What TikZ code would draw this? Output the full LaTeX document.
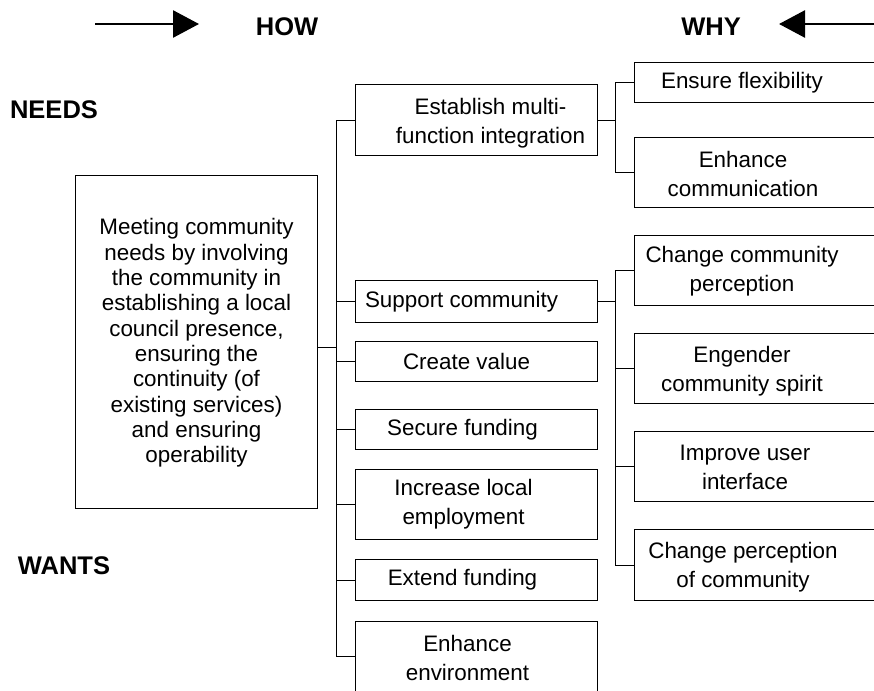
\documentclass[tikz,border=0pt]{standalone}
\usepackage{fontspec}
\setmainfont{Liberation Sans}
\usetikzlibrary{arrows.meta}
\begin{document}
\begin{tikzpicture}[x=1pt,y=-1pt,
  box/.style={draw, line width=1pt, inner sep=0pt, anchor=north west},
  txt/.style={align=center, inner sep=0pt, font=\fontsize{22.4}{29}\selectfont},
  head/.style={font=\fontsize{25.5}{30}\selectfont\bfseries, inner sep=0pt},
  link/.style={line width=1pt},
  bigarrow/.style={line width=2.6pt, -{Triangle[length=26pt,width=27pt]}}]
\useasboundingbox (0,0) rectangle (874,690);
\clip (0,0) rectangle (874,690);
\fill[white] (0,0) rectangle (874,690);

% headers
\coordinate (a1s) at (95,24);
\coordinate (a1e) at (199,24);
\draw[bigarrow] (a1s) -- (a1e);
\node[head] (how) at (287,27) {HOW};
\node[head] (why) at (711,27) {WHY};
\coordinate (a2s) at (880,24);
\coordinate (a2e) at (779,24);
\draw[bigarrow] (a2s) -- (a2e);
\node[head] (needs) at (54,110) {NEEDS};
\node[head] (wants) at (64,566) {WANTS};

% main box
\node[box, minimum width=242pt, minimum height=333pt] (main) at (75,175) {};
\node[txt, font=\fontsize{22.4}{25.3}\selectfont] (mainT) at ([yshift=-1pt]main.center)
 {Meeting community\\needs by involving\\the community in\\establishing a local\\council presence,\\ensuring the\\continuity (of\\existing services)\\and ensuring\\operability};

% HOW boxes
\node[box, minimum width=242pt, minimum height=71pt] (est) at (355,84) {};
\node[txt] (estT) at ([xshift=14pt,yshift=-3pt]est.center) {Establish multi-\\function integration};
\node[box, minimum width=242pt, minimum height=42pt] (sup) at (355,280) {};
\node[txt] (supT) at ([xshift=-15pt]sup.center) {Support community};
\node[box, minimum width=242pt, minimum height=40pt] (cv) at (355,341) {};
\node[txt] (cvT) at ([xshift=-10pt]cv.center) {Create value};
\node[box, minimum width=242pt, minimum height=40pt] (sf) at (355,409) {};
\node[txt] (sfT) at ([xshift=-14pt]sf.center) {Secure funding};
\node[box, minimum width=242pt, minimum height=70pt] (il) at (355,469) {};
\node[txt] (ilT) at ([xshift=-13pt]il.center) {Increase local\\employment};
\node[box, minimum width=242pt, minimum height=41pt] (ef) at (355,559) {};
\node[txt] (efT) at ([xshift=-14pt]ef.center) {Extend funding};
\node[box, minimum width=242pt, minimum height=70pt] (ee) at (355,621) {};
\node[txt] (eeT) at ([xshift=-9pt,yshift=-1pt]ee.center) {Enhance\\environment};

% WHY boxes
\node[box, minimum width=270pt, minimum height=40pt] (fl) at (634,62) {};
\node[txt] (flT) at ([xshift=108pt]fl.west) {Ensure flexibility};
\node[box, minimum width=270pt, minimum height=70pt] (ec) at (634,137) {};
\node[txt] (ecT) at ([xshift=109pt,yshift=-1pt]ec.west) {Enhance\\communication};
\node[box, minimum width=270pt, minimum height=70pt] (cc) at (634,235) {};
\node[txt] (ccT) at ([xshift=108pt,yshift=-1pt]cc.west) {Change community\\perception};
\node[box, minimum width=270pt, minimum height=70pt] (es) at (634,333) {};
\node[txt] (esT) at ([xshift=108pt,yshift=-3pt]es.west) {Engender\\community spirit};
\node[box, minimum width=270pt, minimum height=70pt] (iu) at (634,431) {};
\node[txt] (iuT) at ([xshift=111pt,yshift=-1pt]iu.west) {Improve user\\interface};
\node[box, minimum width=270pt, minimum height=71pt] (cp) at (634,529) {};
\node[txt] (cpT) at ([xshift=109pt,yshift=-2pt]cp.west) {Change perception\\of community};

% connectors
\coordinate (tx) at (336,0);
\coordinate (rx) at (615,0);
\draw[link] ([yshift=-5.5pt]main.east) -- ([yshift=-5.5pt]main.east -| tx);
\draw[link] (est.west -| tx) -- (ee.west -| tx);
\foreach \n in {est,sup,cv,sf,il,ef,ee} \draw[link] (\n.west) -- (\n.west -| tx);
\draw[link] (est.east) -- (est.east -| rx);
\draw[link] (fl.west -| rx) -- (ec.west -| rx);
\foreach \n in {fl,ec} \draw[link] (\n.west) -- (\n.west -| rx);
\draw[link] (sup.east) -- (sup.east -| rx);
\draw[link] (cc.west -| rx) -- (cp.west -| rx);
\foreach \n in {cc,es,iu,cp} \draw[link] (\n.west) -- (\n.west -| rx);
\end{tikzpicture}
\end{document}
